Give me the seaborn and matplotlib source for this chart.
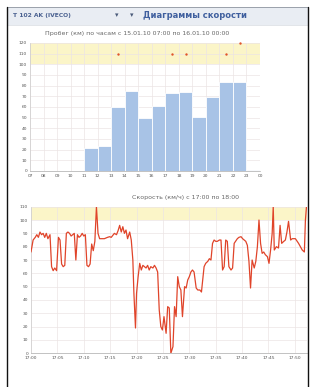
import numpy as np
import pandas as pd
import matplotlib
matplotlib.use("Agg")
import matplotlib.pyplot as plt
from matplotlib.patches import Rectangle
from matplotlib.lines import Line2D
import seaborn as sns

# ---------------- data ----------------
hour_labels = ["07", "08", "09", "10", "11", "12", "13", "14", "15", "16",
               "17", "18", "19", "20", "21", "22", "23", "00"]
hours = [7, 8, 9, 10, 11, 12, 13, 14, 15, 16, 17, 18, 19, 20, 21, 22, 23]
km_per_hour = [0, 0, 0, 0, 22, 23, 60, 75, 50, 61, 73, 74, 51, 69, 83, 83, 1]

over_hours = [13, 17, 18, 21, 22]
over_speed = [110, 110, 110, 110, 120]

minutes = [0.0, 0.4, 0.8, 1.1, 1.4, 1.7, 2.0, 2.3, 2.6, 2.9, 3.2, 3.6, 3.9, 4.2, 4.5,
           4.85, 5.2, 5.5, 5.8, 6.1, 6.4, 6.7, 7.0, 7.3, 7.6, 7.9, 8.2, 8.5, 8.8, 9.1,
           9.4, 9.7, 10.0, 10.3, 10.6, 10.9, 11.2, 11.5, 11.8, 12.1, 12.4, 12.7, 13.0,
           13.5, 13.9, 14.5, 14.9, 15.2, 15.8, 16.2, 16.5, 16.8, 17.1, 17.4, 17.7, 18.0,
           18.3, 18.7, 19.0, 19.3, 19.5, 19.8, 20.0, 20.3, 20.6, 20.9, 21.2, 21.5, 21.8,
           22.1, 22.4, 22.7, 23.1, 23.4, 23.7, 24.0, 24.3, 24.6, 24.9, 25.2, 25.6, 25.9,
           26.2, 26.5, 26.9, 27.2, 27.5, 27.8, 28.1, 28.4, 28.7, 29.1, 29.4, 29.7, 30.0,
           30.3, 30.6, 30.9, 31.3, 31.6, 32.0, 32.3, 32.8, 33.1, 33.5, 33.8, 34.1, 34.4,
           34.7, 35.0, 35.3, 35.7, 36.0, 36.3, 36.6, 36.9, 37.2, 37.5, 37.9, 38.2, 38.5,
           39.1, 39.4, 39.8, 40.1, 40.4, 40.7, 41.0, 41.3, 41.6, 41.9, 42.3, 42.6, 42.9,
           43.2, 43.5, 43.8, 44.1, 44.4, 44.8, 45.1, 45.4, 45.7, 45.9, 46.1, 46.5, 46.9,
           47.2, 47.5, 47.9, 48.2, 48.5, 48.8, 49.2, 49.5, 50.1, 50.7, 51.4, 51.8, 52.0,
           52.2]
speed = [76, 85, 87, 89, 87, 91, 89, 90, 87, 90, 86, 89, 65, 62, 64,
         62, 87, 85, 67, 65, 66, 90, 91, 90, 88, 89, 90, 70, 89, 87,
         88, 90, 88, 89, 66, 65, 67, 82, 77, 84, 110, 90, 86,
         86, 86, 87, 87.5, 87, 90, 89, 92, 96, 91, 95, 90, 92.5,
         86, 91, 85, 70, 45, 19, 45, 57.5, 67.5, 62.5, 66, 65, 64,
         66, 62.5, 65, 64, 66, 64, 61, 32.5, 20, 17.5, 27.5, 15, 35,
         34, 0, 5, 35, 27.5, 57.5, 50, 47.5, 27.5, 50, 49, 55, 57.5,
         61, 62.5, 61, 49, 47.5, 47.5, 46, 65, 67.5, 69, 71, 70, 82.5,
         85, 84, 84, 85, 85, 62.5, 65, 85, 84, 65, 62.5, 64, 82.5,
         86, 87, 87.5, 86, 85, 84, 81, 69, 49, 70, 64, 69, 80,
         100, 82.5, 75, 76, 74, 72.5, 67.5, 77.5, 90, 110, 77.5, 80, 79,
         96, 82.5, 84, 85, 91, 99, 85, 86, 86, 82.5, 77.5, 76, 100,
         110]

time_ticks = [0, 5, 10, 15, 20, 25, 30, 35, 40, 45, 50]
time_labels = ["17:00", "17:05", "17:10", "17:15", "17:20", "17:25",
               "17:30", "17:35", "17:40", "17:45", "17:50"]

# ---------------- styling ----------------
sns.set_style("white")
plt.rcParams["font.family"] = ["DejaVu Sans"]

W, H = 310, 387
fig = plt.figure(figsize=(W / 100, H / 100), dpi=100)
fig.patch.set_facecolor("white")

def fx(px):
    return px / W

def fy(py):
    return 1 - py / H

# header bar
fig.patches.append(Rectangle((fx(7), fy(25)), fx(301), 18 / H, transform=fig.transFigure,
                             facecolor="#e9edf3", edgecolor="none", zorder=0))
fig.lines.append(Line2D([fx(7), fx(308)], [fy(7), fy(7)], transform=fig.transFigure,
                        color="#9aa0aa", lw=0.7))
fig.lines.append(Line2D([fx(7), fx(308)], [fy(25), fy(25)], transform=fig.transFigure,
                        color="#d6dae0", lw=0.5))
fig.lines.append(Line2D([fx(7), fx(7)], [fy(7), 0], transform=fig.transFigure,
                        color="#111111", lw=1.0))
fig.lines.append(Line2D([fx(308), fx(308)], [fy(7), 0], transform=fig.transFigure,
                        color="#111111", lw=1.0))

fig.text(fx(13), fy(15.5), "T 102 AK (IVECO)", fontsize=4.3, fontweight="bold",
         color="#4a6190", va="center", ha="left")
fig.text(fx(117), fy(15), "▾", fontsize=5, color="#4a5a7a", va="center", ha="center")
fig.text(fx(132), fy(15), "▾", fontsize=5, color="#4a5a7a", va="center", ha="center")
fig.text(fx(143), fy(15.5), "Диаграммы скорости", fontsize=6, fontweight="bold",
         color="#3f5f9e", va="center", ha="left")

grid_c = "#ece4e4"
tick_c = "#555555"
yellow = "#fbf5c8"
bar_c = "#a8c3e6"
line_c = "#e0442a"

# ---------------- top chart ----------------
ax1 = fig.add_axes([fx(30), fy(171), fx(230), 128 / H])
ax1.axhspan(100, 120, color=yellow, zorder=0, lw=0)
km_df = pd.DataFrame({"hour": np.array(hours) + 0.5, "km": km_per_hour})
sns.barplot(data=km_df, x="hour", y="km", ax=ax1, native_scale=True, width=1,
            color=bar_c, saturation=1, edgecolor="white", linewidth=0.6, zorder=2)
over_df = pd.DataFrame({"hour": np.array(over_hours) + 0.5, "v": over_speed})
sns.scatterplot(data=over_df, x="hour", y="v", ax=ax1, color="#e0562a",
                s=3, linewidth=0, zorder=4, clip_on=False)
ax1.set_xlim(7, 24)
ax1.set_ylim(0, 120)
ax1.set_xticks(np.arange(7, 25))
ax1.set_xticklabels(hour_labels)
ax1.set_yticks(np.arange(0, 121, 10))
ax1.set_xlabel("")
ax1.set_ylabel("")
ax1.grid(True, color=grid_c, lw=0.5, zorder=1)
ax1.set_axisbelow(True)
ax1.tick_params(labelsize=3.2, colors=tick_c, length=0, pad=2)
for s in ["top", "right"]:
    ax1.spines[s].set_visible(False)
ax1.spines["left"].set_color("#cccccc")
ax1.spines["bottom"].set_color("#aaaaaa")
ax1.spines["left"].set_linewidth(0.5)
ax1.spines["bottom"].set_linewidth(0.5)
fig.text(fx(137), fy(33), "Пробег (км) по часам с 15.01.10 07:00 по 16.01.10 00:00",
         fontsize=4.5, color="#666666", ha="center", va="center")

# ---------------- bottom chart ----------------
ax2 = fig.add_axes([fx(31), fy(353.3), fx(276), 146.6 / H])
ax2.axhspan(100, 110, color=yellow, zorder=0, lw=0)
df = pd.DataFrame({"minute": minutes, "speed": speed})
sns.lineplot(data=df, x="minute", y="speed", ax=ax2, color=line_c, lw=0.9, zorder=3)
ax2.set_xlim(0, 52.3)
ax2.set_ylim(0, 110)
ax2.set_xticks(time_ticks)
ax2.set_xticklabels(time_labels)
ax2.set_yticks(np.arange(0, 111, 10))
ax2.set_xlabel("")
ax2.set_ylabel("")
ax2.grid(True, color=grid_c, lw=0.5, zorder=1)
ax2.set_axisbelow(True)
ax2.tick_params(labelsize=3.2, colors=tick_c, length=0, pad=2)
for s in ["top", "right"]:
    ax2.spines[s].set_visible(False)
ax2.spines["left"].set_color("#cccccc")
ax2.spines["bottom"].set_color("#aaaaaa")
ax2.spines["left"].set_linewidth(0.5)
ax2.spines["bottom"].set_linewidth(0.5)
fig.text(fx(185), fy(197), "Скорость (км/ч) с 17:00 по 18:00",
         fontsize=4.5, color="#666666", ha="center", va="center")

fig.savefig("out.png", dpi=100)
